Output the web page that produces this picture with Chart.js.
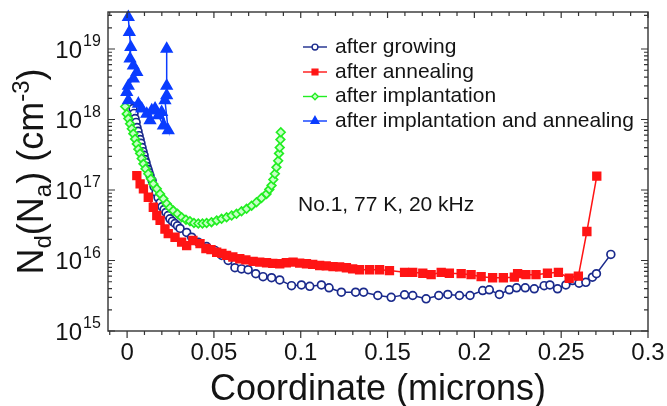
<!DOCTYPE html>
<html>
<head>
<meta charset="utf-8">
<title>Nd(Na) profiles</title>
<script src="https://cdn.jsdelivr.net/npm/chart.js@4.4.0/dist/chart.umd.min.js"></script>
<style>
  html, body { margin: 0; padding: 0; background: #fff; }
  #wrap { width: 667px; height: 406px; }
</style>
</head>
<body>
<div id="wrap"><canvas id="chart" width="667" height="406"></canvas></div>
<script>
// values (x in microns, y in cm^-3)
const growingX = [0.0034, 0.0040, 0.0046, 0.0052, 0.0057, 0.0063, 0.0069, 0.0075, 0.0080, 0.0086,
  0.0092, 0.0098, 0.0103, 0.0109, 0.0115, 0.0121, 0.0126, 0.0132, 0.0144, 0.0155,
  0.0167, 0.0178, 0.0190, 0.0201, 0.0213, 0.0224, 0.0236, 0.0247, 0.0261, 0.0276,
  0.0290, 0.0305, 0.0343, 0.0372, 0.0410, 0.0458, 0.0506, 0.0546, 0.0582, 0.0621,
  0.0659, 0.0697, 0.0741, 0.0783, 0.0832, 0.0879, 0.0947, 0.1004, 0.1052, 0.1119,
  0.1163, 0.1234, 0.1316, 0.1362, 0.1444, 0.1521, 0.1598, 0.1645, 0.1722, 0.1795,
  0.1847, 0.1914, 0.1975, 0.2048, 0.2086, 0.2144, 0.2201, 0.2243, 0.2293, 0.2345,
  0.2402, 0.2435, 0.2479, 0.2527, 0.2565, 0.2603, 0.2642, 0.2680, 0.2703, 0.2786];
const growingY = [1.43e18, 1.22e18, 1.03e18, 9.1e17, 7.7e17, 6.8e17, 5.9e17, 5.2e17, 4.6e17, 4.0e17,
  3.5e17, 3.1e17, 2.7e17, 2.45e17, 2.15e17, 1.95e17, 1.77e17, 1.6e17, 1.36e17, 1.12e17,
  9.2e16, 7.8e16, 6.6e16, 5.8e16, 5.3e16, 4.8e16, 4.35e16, 3.9e16, 3.6e16, 3.35e16,
  3.1e16, 2.85e16, 2.5e16, 2.14e16, 1.82e16, 1.58e16, 1.39e16, 1.18e16, 1.0e16, 7.9e15,
  7.6e15, 7.4e15, 6.5e15, 5.9e15, 5.7e15, 5.3e15, 4.4e15, 4.5e15, 4.3e15, 4.5e15,
  4.1e15, 3.55e15, 3.55e15, 3.55e15, 3.19e15, 3.0e15, 3.26e15, 3.19e15, 2.86e15, 3.19e15,
  3.3e15, 3.19e15, 3.19e15, 3.75e15, 3.84e15, 3.3e15, 3.84e15, 4.1e15, 4.1e15, 3.97e15,
  4.4e15, 4.5e15, 3.97e15, 4.5e15, 5.2e15, 4.77e15, 4.9e15, 5.8e15, 6.5e15, 1.22e16];

const annealingX = [0.0056, 0.0075, 0.0094, 0.0122, 0.0151, 0.0171, 0.0190, 0.0218, 0.0237, 0.0276,
  0.0314, 0.0343, 0.0379, 0.0420, 0.0454, 0.0483, 0.0516, 0.0546, 0.0573, 0.0609,
  0.0649, 0.0684, 0.0726, 0.0764, 0.0803, 0.0839, 0.0879, 0.0917, 0.0956, 0.0994,
  0.1033, 0.1069, 0.1109, 0.1147, 0.1186, 0.1224, 0.1263, 0.1299, 0.1339, 0.1397,
  0.1454, 0.1511, 0.1598, 0.1645, 0.1703, 0.1751, 0.1809, 0.1856, 0.1924, 0.1981,
  0.2039, 0.2105, 0.2167, 0.2230, 0.2249, 0.2297, 0.2355, 0.2421, 0.2484, 0.2546,
  0.2599, 0.2648, 0.2705];
const annealingY = [1.6e17, 1.22e17, 1.04e17, 7.9e16, 5.7e16, 4.35e16, 3.7e16, 2.8e16, 2.4e16, 2.14e16,
  1.82e16, 1.63e16, 1.92e16, 1.74e16, 1.48e16, 1.43e16, 1.31e16, 1.26e16, 1.18e16, 1.12e16,
  1.06e16, 1.02e16, 9.7e15, 9.5e15, 9.3e15, 9.1e15, 9.0e15, 9.3e15, 9.5e15, 9.2e15,
  9.0e15, 8.8e15, 8.5e15, 8.4e15, 8.2e15, 8.1e15, 7.9e15, 7.6e15, 7.4e15, 7.4e15,
  7.4e15, 7.2e15, 6.8e15, 6.8e15, 6.6e15, 6.3e15, 6.8e15, 6.6e15, 6.5e15, 6.3e15,
  5.9e15, 5.7e15, 5.7e15, 5.8e15, 6.5e15, 6.3e15, 6.3e15, 6.6e15, 6.8e15, 5.6e15,
  6.0e15, 2.58e16, 1.57e17];

const implantX = [-0.0011, -0.0002, 0.0007, 0.0017, 0.0027, 0.0036, 0.0046, 0.0056, 0.0065, 0.0075,
  0.0084, 0.0094, 0.0106, 0.0122, 0.0137, 0.0151, 0.0171, 0.0190, 0.0209, 0.0228,
  0.0247, 0.0266, 0.0290, 0.0314, 0.0339, 0.0362, 0.0385, 0.0410, 0.0434, 0.0458,
  0.0486, 0.0516, 0.0544, 0.0573, 0.0602, 0.0630, 0.0659, 0.0688, 0.0717, 0.0745,
  0.0774, 0.0803, 0.0819, 0.0832, 0.0842, 0.0851, 0.0860, 0.0870, 0.0875, 0.0879,
  0.0883, 0.0885];
const implantY = [1.53e18, 1.2e18, 1.03e18, 8.7e17, 7.4e17, 6.3e17, 5.3e17, 4.5e17, 3.8e17, 3.3e17,
  2.8e17, 2.35e17, 2.0e17, 1.7e17, 1.44e17, 1.22e17, 1.04e17, 8.8e16, 7.5e16, 6.4e16,
  5.6e16, 5.1e16, 4.6e16, 4.1e16, 3.8e16, 3.6e16, 3.4e16, 3.35e16, 3.35e16, 3.4e16,
  3.5e16, 3.7e16, 3.9e16, 4.1e16, 4.35e16, 4.6e16, 5.0e16, 5.4e16, 6.0e16, 6.7e16,
  7.7e16, 8.8e16, 1.02e17, 1.16e17, 1.41e17, 1.7e17, 2.1e17, 2.6e17, 3.3e17, 4.0e17,
  5.2e17, 6.6e17];

const implAnnealX = [0.0007, 0.0013, 0.0021, 0.0017, 0.0036, 0.0056, 0.0036, 0.0007, -0.0002, 0.0007,
  0.0065, 0.0084, 0.0113, 0.0132, 0.0142, 0.0161, 0.0180, 0.0209, 0.0199, 0.0237,
  0.0218, 0.0228, 0.0228, 0.0228];
const implAnnealY = [2.83e19, 1.73e19, 1.06e19, 7.3e18, 5.8e18, 4.7e18, 3.8e18, 3.0e18, 2.44e18, 1.86e18,
  1.67e18, 1.42e18, 1.2e18, 9.7e17, 1.34e18, 1.42e18, 1.14e18, 8.2e17, 1.27e18, 7.0e17,
  1.86e18, 2.19e18, 3.0e18, 1.0e19];

const seriesLabels = ['after growing', 'after annealing', 'after implantation', 'after implantation and annealing'];
const xTicks = [0, 0.05, 0.1, 0.15, 0.2, 0.25, 0.3];
const xTickLabels = ['0', '0.05', '0.1', '0.15', '0.2', '0.25', '0.3'];
const yDecades = [15, 16, 17, 18, 19];
const noteText = 'No.1, 77 K, 20 kHz';

const FONT = 'Arial, "Liberation Sans", Helvetica, sans-serif';
const TEXT = '#141414';

function pts(xs, ys) {
  return xs.map((x, i) => ({ x: x, y: ys[i] }));
}

function makeSet(label, xs, ys, color, style, radius, fill, order) {
  return {
    label: label,
    data: pts(xs, ys),
    showLine: true,
    borderColor: color,
    backgroundColor: color,
    borderWidth: 1.5,
    pointStyle: style,
    pointRadius: radius,
    pointBorderWidth: 1.7,
    pointBorderColor: color,
    pointBackgroundColor: fill,
    tension: 0,
    clip: false,
    order: order,
  };
}

// frame + tick marks (bottom outward, others inward)
const framePlugin = {
  id: 'frame',
  afterDatasetsDraw(chart) {
    const { ctx, chartArea: a, scales: { x, y } } = chart;
    ctx.save();
    ctx.strokeStyle = '#333';
    ctx.lineWidth = 1.4;
    ctx.strokeRect(a.left, a.top, a.right - a.left, a.bottom - a.top);
    ctx.lineWidth = 1.2;
    ctx.beginPath();
    for (let i = -1; i <= 30; i++) {
      const px = x.getPixelForValue(i / 100);
      const major = i % 5 === 0;
      ctx.moveTo(px, a.bottom);
      ctx.lineTo(px, a.bottom + (major ? 7 : 4));
      ctx.moveTo(px, a.top);
      ctx.lineTo(px, a.top + (major ? 6 : 4));
    }
    for (const d of yDecades) {
      for (let m = 1; m <= 9; m++) {
        const v = m * Math.pow(10, d);
        if (v > y.max) break;
        const py = y.getPixelForValue(v);
        const len = m === 1 ? 7 : 4;
        ctx.moveTo(a.left, py);
        ctx.lineTo(a.left + len, py);
        ctx.moveTo(a.right, py);
        ctx.lineTo(a.right - len, py);
      }
    }
    ctx.stroke();
    ctx.restore();
  }
};

// y tick labels with exponents, y title, legend and note
const textPlugin = {
  id: 'texts',
  afterDraw(chart) {
    const { ctx, chartArea: a, scales: { y } } = chart;
    ctx.save();
    ctx.fillStyle = TEXT;

    // 10^n labels
    for (const d of yDecades) {
      const py = y.getPixelForValue(Math.pow(10, d));
      ctx.font = '24px ' + FONT;
      ctx.textAlign = 'right';
      ctx.textBaseline = 'alphabetic';
      ctx.fillText('10', 82, py + 8.5);
      ctx.font = '16px ' + FONT;
      ctx.textAlign = 'left';
      ctx.fillText(String(d), 83, py - 3);
    }

    // rotated y title: N_d(N_a) (cm^-3)
    const segs = [['N', 0], ['d', 1], ['(N', 0], ['a', 1], [') (cm', 0], ['-3', 2], [')', 0]];
    const big = '36px ' + FONT, small = '24px ' + FONT;
    let total = 0;
    for (const s of segs) {
      ctx.font = s[1] ? small : big;
      total += ctx.measureText(s[0]).width;
    }
    ctx.translate(43, (a.top + a.bottom) / 2);
    ctx.rotate(-Math.PI / 2);
    ctx.textAlign = 'left';
    let cx = -total / 2;
    for (const s of segs) {
      ctx.font = s[1] ? small : big;
      const dy = s[1] === 1 ? 8 : (s[1] === 2 ? -14 : 0);
      ctx.fillText(s[0], cx, dy);
      cx += ctx.measureText(s[0]).width;
    }
    ctx.setTransform(1, 0, 0, 1, 0, 0);

    // legend
    const rows = [47, 72, 96.5, 121];
    const legendOrder = [0, 1, 2, 3];
    legendOrder.forEach((idx, r) => {
      const ds = chart.data.datasets[idx];
      const ry = rows[r];
      ctx.strokeStyle = ds.borderColor;
      ctx.lineWidth = 1.4;
      ctx.beginPath();
      ctx.moveTo(303, ry);
      ctx.lineTo(327, ry);
      ctx.stroke();
      ctx.fillStyle = ds.pointBackgroundColor;
      ctx.strokeStyle = ds.borderColor;
      Chart.helpers.drawPoint(ctx, {
        pointStyle: ds.pointStyle, radius: ds.pointRadius * 0.75, rotation: 0, borderWidth: 1.3
      }, 315, ry);
      ctx.fillStyle = TEXT;
      ctx.font = '21px ' + FONT;
      ctx.textAlign = 'left';
      ctx.textBaseline = 'middle';
      ctx.fillText(ds.label, 335, ry);
    });

    // annotation
    ctx.fillStyle = TEXT;
    ctx.font = '21px ' + FONT;
    ctx.textAlign = 'left';
    ctx.textBaseline = 'middle';
    ctx.fillText(noteText, 298, 205);
    ctx.restore();
  }
};

new Chart(document.getElementById('chart'), {
  type: 'scatter',
  data: {
    datasets: [
      makeSet(seriesLabels[0], growingX, growingY, '#1a2a8c', 'circle', 3.9, '#ffffff', 4),
      makeSet(seriesLabels[1], annealingX, annealingY, '#ff1414', 'rect', 5.4, '#ff1414', 3),
      makeSet(seriesLabels[2], implantX, implantY, '#22ee22', 'rectRot', 4.3, '#c8ffc8', 2),
      makeSet(seriesLabels[3], implAnnealX, implAnnealY, '#0a3cff', 'triangle', 6, '#0a3cff', 1),
    ],
  },
  options: {
    responsive: false,
    animation: false,
    devicePixelRatio: 1,
    layout: { padding: { top: 12, right: 19, left: 0, bottom: 0 } },
    plugins: {
      legend: { display: false },
      tooltip: { enabled: false },
    },
    scales: {
      x: {
        type: 'linear',
        min: -0.011,
        max: 0.3,
        afterFit(s) {
          s.height = 75;
          s.paddingLeft = 0;
          s.paddingRight = 0;
        },
        afterBuildTicks(s) { s.ticks = xTicks.map(v => ({ value: v })); },
        grid: { display: false, drawTicks: false },
        border: { display: false },
        ticks: {
          callback: (v, i) => xTickLabels[i],
          font: { family: FONT, size: 24 },
          color: TEXT,
          padding: 8,
          maxRotation: 0,
          autoSkip: false,
        },
        title: {
          display: true,
          text: 'Coordinate (microns)',
          font: { family: FONT, size: 36 },
          color: TEXT,
          padding: { top: 0, bottom: -6 },
        },
      },
      y: {
        type: 'logarithmic',
        min: 1e15,
        max: 3.35e19,
        afterFit(s) { s.width = 108; },
        ticks: { display: false },
        grid: { display: false },
        border: { display: false },
      },
    },
  },
  plugins: [framePlugin, textPlugin],
});
</script>
</body>
</html>
